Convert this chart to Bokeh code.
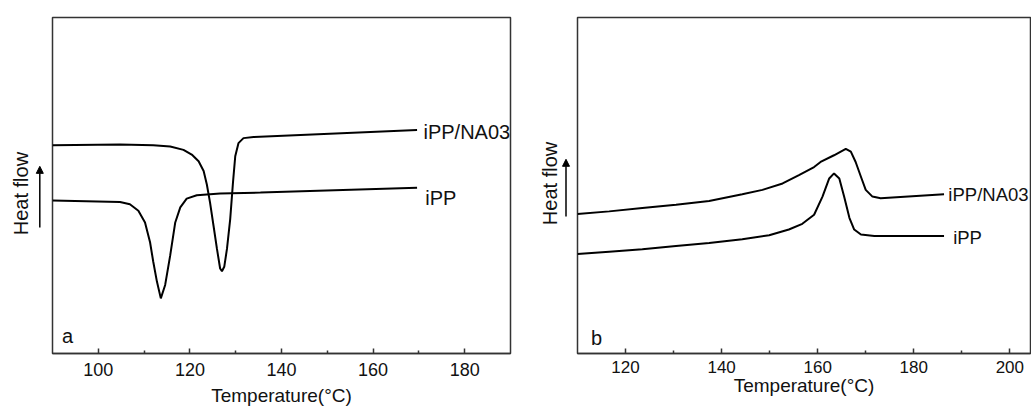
import math
from bokeh.plotting import figure
from bokeh.layouts import row
from bokeh.models import Range1d, FixedTicker, Label, Arrow, NormalHead
from bokeh.embed import file_html
from bokeh.resources import INLINE

# ---------------- data: panel a (cooling, crystallization) ----------------
a_na03_T = [90.0, 104.75, 112.0, 115.7, 118.6, 120.4, 121.9, 123.0, 123.7, 124.4, 125.15,
            125.9, 126.6, 127.0, 127.5, 128.1, 128.8, 129.4, 129.9, 130.6, 131.7, 133.9, 169.6]
a_na03_H = [62.0, 62.2, 62.0, 61.6, 60.6, 59.2, 57.2, 54.3, 50.3, 44.9, 38.1,
            31.2, 25.3, 24.5, 25.8, 31.2, 40.0, 50.8, 58.7, 62.6, 64.1, 64.4, 66.5]
a_ipp_T = [90.0, 104.75, 106.9, 108.75, 110.2, 111.3, 112.0, 112.8, 113.65, 114.6, 115.7,
           116.8, 117.9, 119.3, 121.5, 126.6, 135.4, 169.6]
a_ipp_H = [45.5, 45.1, 44.4, 42.5, 39.0, 33.1, 27.3, 21.4, 16.4, 20.4, 29.2,
           39.0, 43.5, 46.1, 47.1, 47.6, 47.9, 49.3]
a_ticks = [100, 120, 140, 160, 180]
a_minor = [110, 130, 150, 170]

# ---------------- data: panel b (heating, melting) ----------------
b_na03_T = [110.0, 116.6, 123.5, 130.5, 137.4, 144.3, 148.5, 152.7, 156.1, 159.25, 160.6,
            163.4, 165.85, 166.9, 167.9, 169.0, 170.0, 171.4, 173.1, 186.3]
b_na03_H = [41.5, 42.3, 43.3, 44.3, 45.4, 47.4, 48.7, 50.6, 53.1, 55.5, 57.0,
            59.0, 60.9, 60.1, 57.0, 52.6, 48.7, 46.7, 46.2, 47.4]
b_ipp_T = [110.0, 116.6, 123.5, 130.5, 137.4, 144.3, 149.9, 154.0, 156.8, 159.25, 161.0,
           162.4, 163.4, 164.5, 165.5, 166.6, 167.6, 169.0, 171.8, 186.3]
b_ipp_H = [29.6, 30.3, 31.0, 32.0, 32.9, 34.0, 35.2, 36.9, 38.6, 41.3, 46.7,
           52.1, 53.6, 52.1, 46.7, 40.4, 36.9, 35.4, 35.0, 35.0]
b_ticks = [120, 140, 160, 180, 200]
b_minor = [130, 150, 170, 190]

FONT = "Liberation Sans"
TXT = "#111111"
FRAME = "#333333"
H = 410


def make_panel(width, xr, ticks, minor, borders, tick_font, lab_standoff, title_standoff):
    l, r, t, b = borders
    p = figure(width=width, height=H, output_backend="svg", toolbar_location=None,
               x_range=Range1d(*xr), y_range=Range1d(0, 100), y_axis_location=None,
               min_border_left=l, min_border_right=r, min_border_top=t, min_border_bottom=b)
    p.grid.visible = False
    p.outline_line_color = FRAME
    p.outline_line_width = 1.5
    p.outline_line_alpha = 1.0
    ax = p.xaxis[0]
    ax.ticker = FixedTicker(ticks=ticks, minor_ticks=minor)
    ax.major_tick_in = 5
    ax.major_tick_out = 0
    ax.minor_tick_in = 3
    ax.minor_tick_out = 0
    ax.major_tick_line_color = FRAME
    ax.minor_tick_line_color = FRAME
    ax.major_tick_line_width = 1.5
    ax.minor_tick_line_width = 1.5
    ax.axis_line_color = FRAME
    ax.axis_line_width = 1.5
    ax.major_label_text_font = FONT
    ax.major_label_text_font_size = tick_font
    ax.major_label_text_color = TXT
    ax.major_label_standoff = lab_standoff
    ax.axis_label = "Temperature(\u00b0C)"
    ax.axis_label_text_font = FONT
    ax.axis_label_text_font_size = "19px"
    ax.axis_label_text_font_style = "normal"
    ax.axis_label_text_color = TXT
    ax.axis_label_standoff = title_standoff
    p.background_fill_color = "white"
    p.border_fill_color = "white"
    return p


def side_panel(width, yrange, label_x, label_y, arrow_x, arrow_y0, arrow_y1):
    """Narrow strip left of a panel (its frame lines up with the panel's frame and
    shares its heat-flow range), holding the rotated y title and the arrow."""
    s = figure(width=width, height=H, output_backend="svg", toolbar_location=None,
               x_range=Range1d(0, width), y_range=yrange,
               x_axis_location=None, y_axis_location=None,
               min_border_left=0, min_border_right=0, min_border_top=0, min_border_bottom=0)
    s.grid.visible = False
    s.outline_line_color = None
    s.background_fill_color = "white"
    s.border_fill_color = "white"
    s.add_layout(Label(x=label_x, y=label_y, text="Heat flow", text_font=FONT,
                       text_font_size="20px", text_color=TXT, angle=math.pi / 2,
                       text_align="center", text_baseline="middle"))
    s.add_layout(Arrow(end=NormalHead(size=7, fill_color="black", line_color="black"),
                       x_start=arrow_x, y_start=arrow_y0, x_end=arrow_x, y_end=arrow_y1,
                       line_color="black", line_width=1.5))
    return s


def lab(p, x, y, text, size="20px"):
    p.add_layout(Label(x=x, y=y, text=text, text_font=FONT, text_font_size=size,
                       text_color=TXT, text_baseline="middle", text_align="left"))


# ---------------- panel a ----------------
pa = make_panel(472, (90, 190), a_ticks, a_minor, (4, 10, 13, 57), "18px", 9, 6)
pa.line(a_na03_T, a_na03_H, line_color="black", line_width=2)
pa.line(a_ipp_T, a_ipp_H, line_color="black", line_width=2)
lab(pa, 171.0, 66.0, "iPP/NA03")
lab(pa, 171.4, 46.4, "iPP")
lab(pa, 92.1, 5.2, "a")
ya = side_panel(48, pa.y_range, 20, 47.6, 39.3, 37.5, 55.7)

# ---------------- panel b ----------------
pb = make_panel(459, (110, 204.3), b_ticks, b_minor, (5, 1, 17, 53), "17px", 7, -1)
pb.line(b_na03_T, b_na03_H, line_color="black", line_width=2)
pb.line(b_ipp_T, b_ipp_H, line_color="black", line_width=2)
lab(pb, 187.2, 47.4, "iPP/NA03", "18.5px")
lab(pb, 188.2, 34.5, "iPP", "18.5px")
lab(pb, 112.8, 4.5, "b")
yb = side_panel(52, pb.y_range, 29, 50.6, 45.5, 40.8, 57.8)

layout = row(ya, pa, yb, pb)
open("out.html", "w").write(file_html(layout, INLINE))
